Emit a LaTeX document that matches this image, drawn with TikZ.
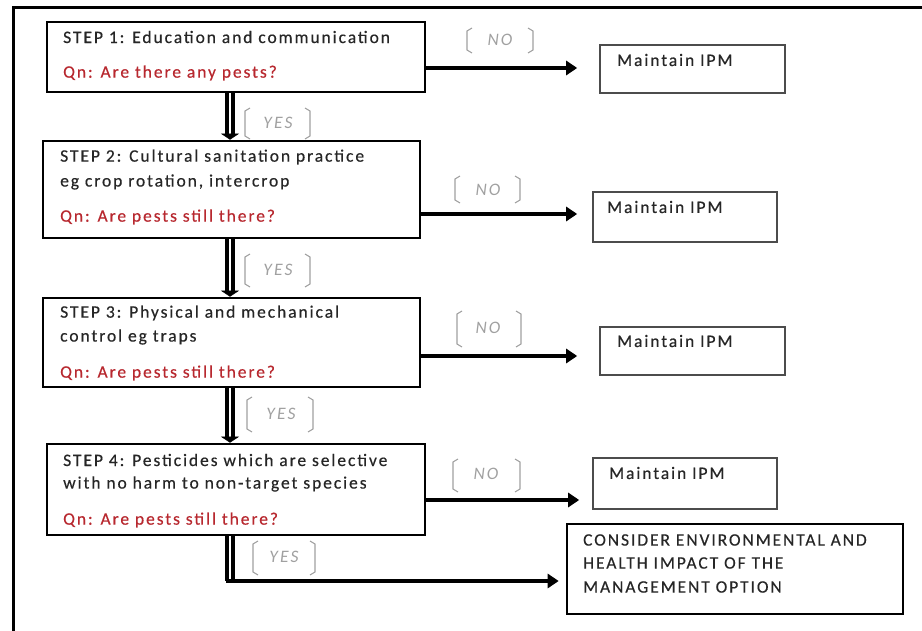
\documentclass[tikz,border=0pt]{standalone}
\usepackage{fontspec}
\setmainfont{Carlito}[LetterSpace=11,FakeBold=0.4]
\usetikzlibrary{arrows.meta,calc}
\definecolor{qred}{HTML}{B8282F}
\definecolor{lblgray}{HTML}{A0A0A0}
\definecolor{txt}{HTML}{262626}
\newcommand\lblbrackets[4]{%
  \draw[brk] ({#1+5},#3) -- (#1,{#3+3}) -- (#1,{#4-3}) -- ({#1+5},#4);
  \draw[brk] ({#2-5},#3) -- (#2,{#3+3}) -- (#2,{#4-3}) -- ({#2-5},#4);}
\begin{document}
\begin{tikzpicture}[x=1pt,y=-1pt,
  box/.style={draw=black, line width=2.6pt, inner sep=0pt, fill=white},
  mbox/.style={draw=black!70, line width=1.6pt, inner sep=0pt, fill=white},
  cbox/.style={draw=black, line width=2.6pt, inner sep=0pt, fill=white},
  txtl/.style={anchor=west, inner sep=0pt, text=txt, font=\fontsize{17.5}{20}\selectfont},
  qn/.style={txtl, text=qred},
  lbl/.style={inner sep=0pt, text=lblgray, font=\fontsize{17.5}{20}\selectfont\itshape\addfontfeature{LetterSpace=12,FakeBold=0}},
  brk/.style={draw=lblgray, line width=1.1pt},
  noarrow/.style={line width=4.5pt, -{Triangle[length=11pt,width=14pt]}},
  dbl/.style={draw=black, line width=3.4pt, double=white, double distance=2.4pt},
  dtip/.style={-{Triangle[length=6pt,width=18pt]}, line width=0.5pt}]
\useasboundingbox (0,0) rectangle (922,631);
% outer frame
\draw[line width=3pt] (13,631) -- (13,8) -- (922,8);
% step boxes
\node[box, minimum width=378pt, minimum height=70pt] (s1) at (236,57) {};
\node[box, minimum width=377pt, minimum height=97pt] (s2) at (231.5,189.5) {};
\node[box, minimum width=377pt, minimum height=89pt] (s3) at (231.5,342.5) {};
\node[box, minimum width=378pt, minimum height=91pt] (s4) at (236,489.5) {};
% maintain boxes
\node[mbox, minimum width=185pt, minimum height=48pt] (m1) at (692.5,69) {};
\node[mbox, minimum width=184pt, minimum height=50pt] (m2) at (685,217) {};
\node[mbox, minimum width=185pt, minimum height=48pt] (m3) at (692.5,351) {};
\node[mbox, minimum width=184pt, minimum height=51pt] (m4) at (685,483.5) {};
\node[cbox, minimum width=336pt, minimum height=90pt] (cons) at (735,569) {};
% texts
\node[txtl] (t1a) at (63,37) {STEP 1: Education and communication};
\node[qn]   (t1b) at (63,73) {Qn: Are there any pests?};
\node[txtl] (t2a) at (60,157) {STEP 2: Cultural sanitation practice};
\node[txtl] (t2b) at (60,182) {eg crop rotation, intercrop};
\node[qn]   (t2c) at (60,217) {Qn: Are pests still there?};
\node[txtl] (t3a) at (60,313) {STEP 3: Physical and mechanical};
\node[txtl] (t3b) at (60,337) {control eg traps};
\node[qn]   (t3c) at (60,373) {Qn: Are pests still there?};
\node[txtl] (t4a) at (63,460) {STEP 4: Pesticides which are selective};
\node[txtl] (t4b) at (63,484) {with no harm to non-target species};
\node[qn]   (t4c) at (63,520) {Qn: Are pests still there?};
\node[txtl] (tm1) at (617,60) {Maintain IPM};
\node[txtl] (tm2) at (607,207) {Maintain IPM};
\node[txtl] (tm3) at (617,341) {Maintain IPM};
\node[txtl] (tm4) at (609,473) {Maintain IPM};
\node[txtl] (tc1) at (583,540) {CONSIDER ENVIRONMENTAL AND};
\node[txtl] (tc2) at (583,563) {HEALTH IMPACT OF THE};
\node[txtl] (tc3) at (583,587) {MANAGEMENT OPTION};
% NO arrows
\draw[noarrow, shorten >=22pt] (s1.east |- 0,68) -- (m1.west |- 0,68);
\draw[noarrow, shorten >=15pt] (s2.east |- 0,214) -- (m2.west |- 0,214);
\draw[noarrow, shorten >=22pt] (s3.east |- 0,356) -- (m3.west |- 0,356);
\draw[noarrow, shorten >=13pt] (s4.east |- 0,500) -- (m4.west |- 0,500);
% NO labels
\node[lbl] (n1) at (500,40) {NO};
\lblbrackets{467}{533}{28}{53}
\node[lbl] (n2) at (488,190) {NO};
\lblbrackets{455}{520}{176}{203}
\node[lbl] (n3) at (488,328) {NO};
\lblbrackets{457}{521}{311}{347}
\node[lbl] (n4) at (486,474) {NO};
\lblbrackets{453}{520}{459}{492}
% YES arrows
\coordinate (ax) at (230,0);
\draw[dbl, shorten >=5pt] (s1.south -| ax) -- (s2.north -| ax);
\draw[dtip] ($(s2.north -| ax)+(0,-6)$) -- (s2.north -| ax);
\draw[dbl, shorten >=5pt] (s2.south -| ax) -- (s3.north -| ax);
\draw[dtip] ($(s3.north -| ax)+(0,-6)$) -- (s3.north -| ax);
\draw[dbl, shorten >=5pt] (s3.south -| ax) -- (s4.north -| ax);
\draw[dtip] ($(s4.north -| ax)+(0,-6)$) -- (s4.north -| ax);
\coordinate (turn) at (230,581);
\draw[dbl] (s4.south -| ax) -- (turn);
\draw[noarrow, shorten >=7pt] ($(turn)+(-4,0)$) -- (cons.west |- turn);
% YES labels
\node[lbl] (y1) at (278,123) {YES};
\lblbrackets{245}{310}{108}{139}
\node[lbl] (y2) at (278,270) {YES};
\lblbrackets{245}{310}{254}{287}
\node[lbl] (y3) at (281,414) {YES};
\lblbrackets{247}{313}{397}{432}
\node[lbl] (y4) at (284,557) {YES};
\lblbrackets{253}{315}{541}{575}
\end{tikzpicture}
\end{document}
